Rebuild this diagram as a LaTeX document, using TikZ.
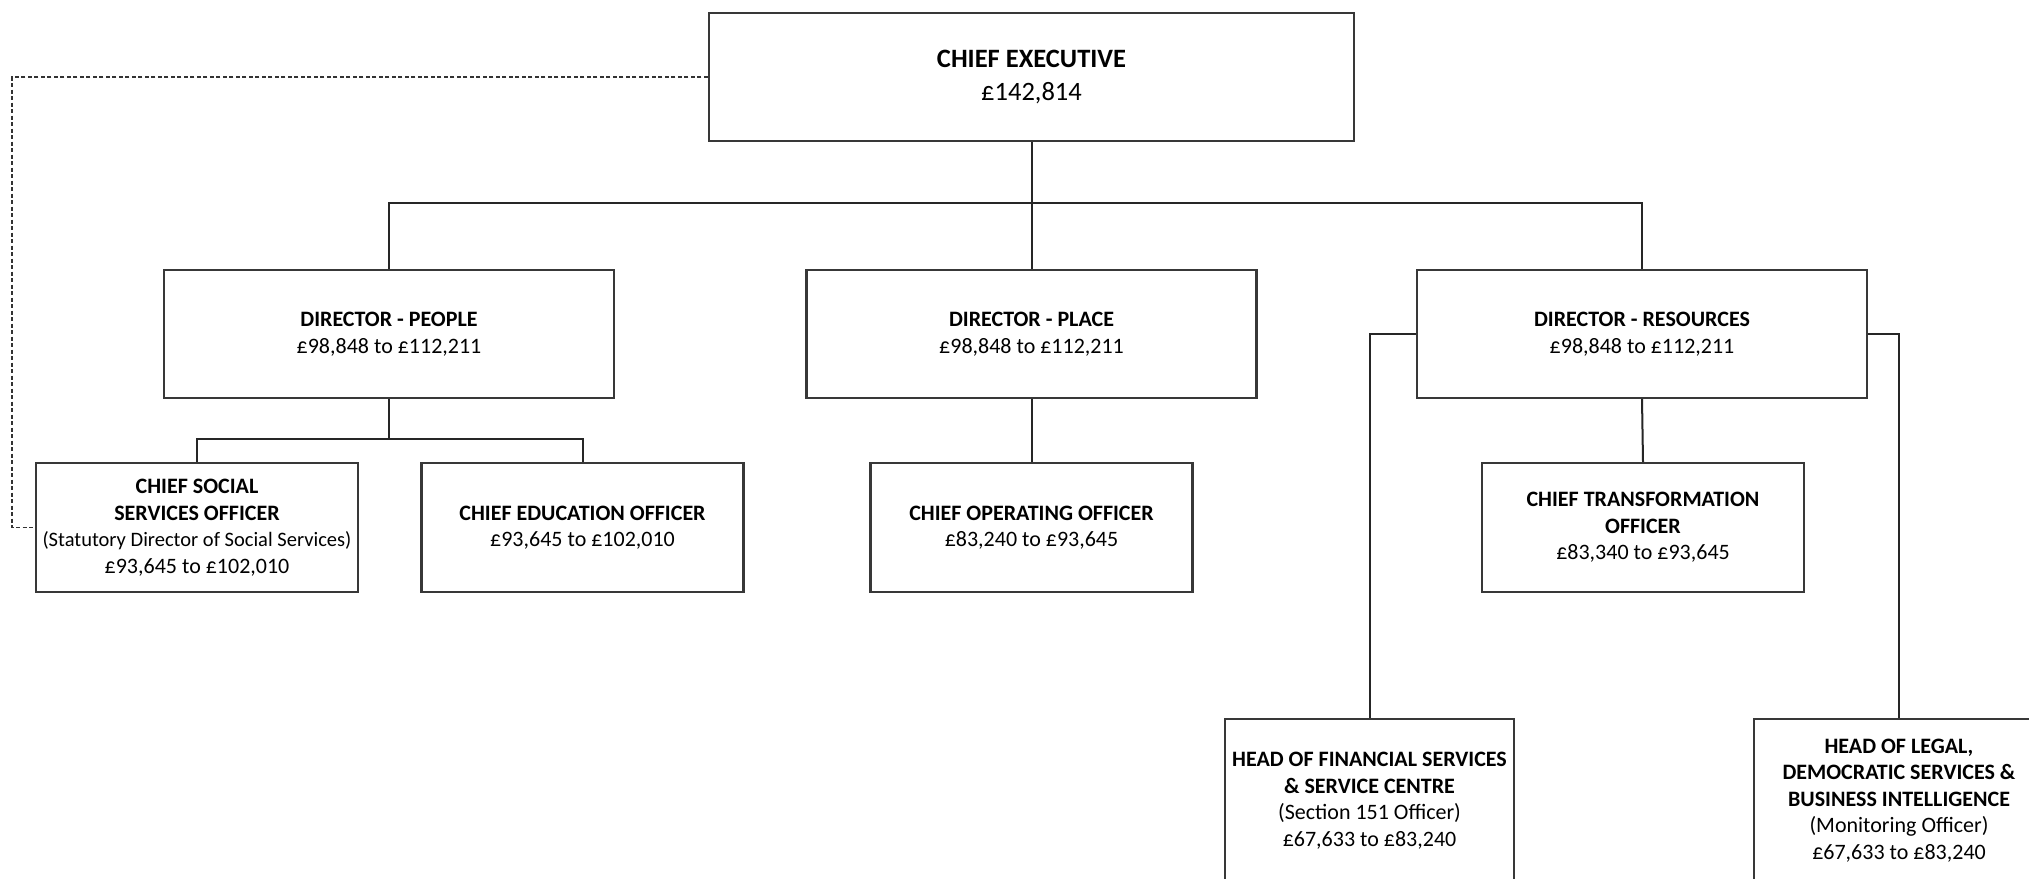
\documentclass[tikz,border=0pt]{standalone}
\usepackage{fontspec}
\setmainfont{Carlito}
\begin{document}
\begin{tikzpicture}[x=1pt,y=-1pt,
  box/.style={draw=black!78, line width=2.2pt, fill=white, align=center, inner sep=0pt,
    font=\fontsize{22}{26.5}\selectfont},
  conn/.style={draw=black!85, line width=2pt},
  dline/.style={draw=black!80, line width=1.3pt, dash pattern=on 4pt off 2.5pt}]
\useasboundingbox (0,0) rectangle (2029,878);
\fill[white] (0,0) rectangle (2029,878);
\clip (0,0) rectangle (2029,878);

% top
\node[box, minimum width=645pt, minimum height=128pt, font=\fontsize{26.5}{33}\selectfont] (ceo) at (1031.5,77)
  {\textbf{CHIEF EXECUTIVE}\\£142,814};

% directors
\node[box, minimum width=450pt, minimum height=128pt] (people) at (389,334)
  {\textbf{DIRECTOR - PEOPLE}\\£98,848 to £112,211};
\node[box, minimum width=450pt, minimum height=128pt] (place) at (1031.5,334)
  {\textbf{DIRECTOR - PLACE}\\£98,848 to £112,211};
\node[box, minimum width=450pt, minimum height=128pt] (resources) at (1642,334)
  {\textbf{DIRECTOR - RESOURCES}\\£98,848 to £112,211};

% officers
\node[box, minimum width=322pt, minimum height=129pt] (social) at (197,527.5)
  {\textbf{CHIEF SOCIAL}\\\textbf{SERVICES OFFICER}\\{\fontsize{20.5}{26.5}\selectfont (Statutory Director of Social Services)}\\£93,645 to £102,010};
\node[box, minimum width=322pt, minimum height=129pt] (education) at (582.5,527.5)
  {\textbf{CHIEF EDUCATION OFFICER}\\£93,645 to £102,010};
\node[box, minimum width=322pt, minimum height=129pt] (operating) at (1031.5,527.5)
  {\textbf{CHIEF OPERATING OFFICER}\\£83,240 to £93,645};
\node[box, minimum width=322pt, minimum height=129pt] (transformation) at (1643,527.5)
  {\textbf{CHIEF TRANSFORMATION}\\\textbf{OFFICER}\\£83,340 to £93,645};

% heads
\node[box, minimum width=289pt, minimum height=163pt] (finance) at (1369.5,800.5)
  {\textbf{HEAD OF FINANCIAL SERVICES}\\\textbf{\& SERVICE CENTRE}\\(Section 151 Officer)\\£67,633 to £83,240};
\node[box, minimum width=290pt, minimum height=163pt] (legal) at (1899,800.5)
  {\textbf{HEAD OF LEGAL,}\\\textbf{DEMOCRATIC SERVICES \&}\\\textbf{BUSINESS INTELLIGENCE}\\(Monitoring Officer)\\£67,633 to £83,240};

% connectors
\coordinate (bus) at (1031.5,203);
\coordinate (pbus) at (389,439);
\coordinate (dl) at (12,0);
\draw[conn] (ceo.south) -- (place.north);
\draw[conn] (people.north) |- (bus) -| (resources.north);
\draw[conn] (people.south) -- (pbus);
\draw[conn] (social.north) |- (pbus) -| (education.north);
\draw[conn] (place.south) -- (operating.north);
\draw[conn] (resources.south) -- (transformation.north);
\draw[conn] (resources.west) -| (finance.north);
\draw[conn] (resources.east) -| (legal.north);
\draw[dline] (ceo.west) -| (dl |- social.west) -- (social.west);
\end{tikzpicture}
\end{document}
